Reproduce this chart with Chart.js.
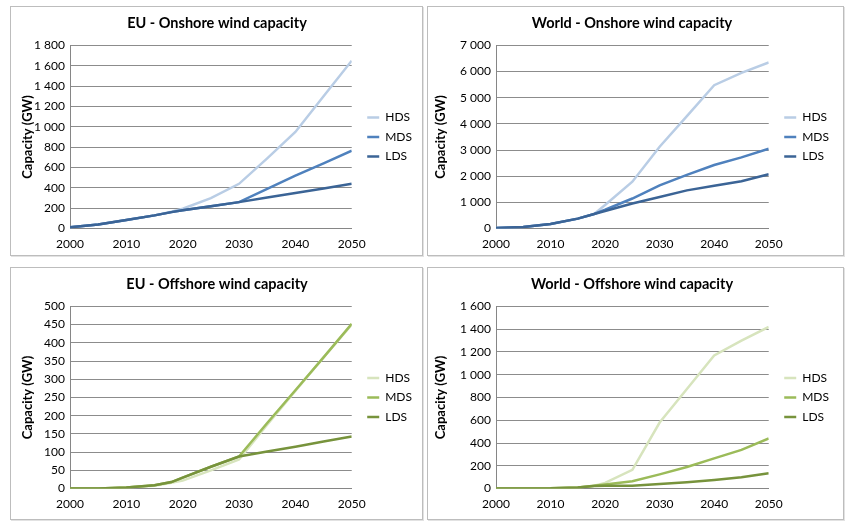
<!DOCTYPE html>
<html>
<head>
<meta charset="utf-8">
<script src="https://cdn.jsdelivr.net/npm/chart.js@4.4.1/dist/chart.umd.min.js"></script>
<style>
  body { margin: 0; background: #fff; width: 850px; height: 524px; position: relative; overflow: hidden; }
  .panel { position: absolute; border: 1px solid #bdbdbd; box-shadow: 1px 1px 0 #e2e2e2; background: #fff; }
  canvas { display: block; }
</style>
</head>
<body>
<div class="panel" style="left:10px;top:6px;"><canvas id="euOn" width="411" height="248"></canvas></div>
<div class="panel" style="left:427px;top:6px;"><canvas id="worldOn" width="415" height="248"></canvas></div>
<div class="panel" style="left:10px;top:267px;"><canvas id="euOff" width="411" height="251"></canvas></div>
<div class="panel" style="left:427px;top:267px;"><canvas id="worldOff" width="415" height="251"></canvas></div>
<script>
// years shared by all four charts
const years = [2000, 2005, 2010, 2015, 2018, 2020, 2025, 2030, 2035, 2040, 2045, 2050];
const scenarios = ['HDS', 'MDS', 'LDS'];

// EU onshore (GW)
const euOnHDS = [12, 40, 85, 130, 165, 195, 300, 440, 690, 950, 1300, 1650];
const euOnMDS = [12, 40, 85, 130, 162, 180, 220, 260, 390, 520, 640, 765];
const euOnLDS = [12, 40, 85, 130, 162, 180, 220, 260, 305, 350, 395, 440];

// World onshore (GW)
const worldOnHDS = [20, 60, 180, 380, 560, 900, 1790, 3130, 4300, 5480, 5950, 6350];
const worldOnMDS = [20, 60, 180, 380, 560, 720, 1150, 1650, 2050, 2430, 2720, 3050];
const worldOnLDS = [20, 60, 180, 380, 560, 670, 960, 1210, 1460, 1640, 1810, 2080];

// EU offshore (GW)
const euOffHDS = [0, 0.5, 3, 8, 16, 22, 50, 80, 175, 268, 360, 450];
const euOffMDS = [0, 0.5, 3, 9, 18, 30, 60, 88, 180, 270, 360, 452];
const euOffLDS = [0, 0.5, 3, 9, 18, 30, 60, 88, 102, 115, 129, 143];

// World offshore (GW)
const worldOffHDS = [0, 0, 2, 10, 25, 50, 165, 580, 875, 1170, 1300, 1420];
const worldOffMDS = [0, 0, 2, 10, 25, 35, 65, 125, 190, 265, 340, 440];
const worldOffLDS = [0, 0, 2, 10, 22, 25, 25, 40, 55, 75, 100, 135];

const xTicks = [2000, 2010, 2020, 2030, 2040, 2050];

const blues = ['#b9cde5', '#4f81bd', '#3b6496'];
const greens = ['#d7e4bd', '#9bbb59', '#77933c'];

const fontFamily = 'Lato, "Open Sans", sans-serif';

function spaced(v) {
    return String(v).replace(/\B(?=(\d{3})+(?!\d))/g, ' ');
}

// nudge the legend a little away from the plot
const legendGap = {
    id: 'legendGap',
    afterLayout(chart) {
        chart.legend.left += 8;
        chart.legend.right += 8;
    }
};

function makeChart(id, title, series, colors, yMax, yStep, pad, yWidth) {
    const ctx = document.getElementById(id).getContext('2d');
    const datasets = series.map((values, i) => ({
        label: scenarios[i],
        data: values.map((v, j) => ({ x: years[j], y: v })),
        borderColor: colors[i],
        backgroundColor: colors[i],
        borderWidth: 2.5,
        pointRadius: 0,
        tension: 0,
        // last series on top, like in Excel
        order: series.length - 1 - i
    }));

    return new Chart(ctx, {
        type: 'line',
        data: { datasets: datasets },
        plugins: [legendGap],
        options: {
            responsive: false,
            animation: false,
            devicePixelRatio: 1,
            layout: { padding: pad },
            plugins: {
                title: {
                    display: true,
                    text: title,
                    color: '#000',
                    font: { family: fontFamily, size: 14.5, weight: 'bold' },
                    padding: { top: 0, bottom: 13 }
                },
                legend: {
                    display: true,
                    position: 'right',
                    fullSize: false,
                    labels: {
                        usePointStyle: true,
                        pointStyle: 'line',
                        pointStyleWidth: 12,
                        padding: 7.5,
                        color: '#000',
                        font: { family: fontFamily, size: 12 },
                        sort: (a, b) => a.datasetIndex - b.datasetIndex
                    }
                },
                tooltip: { enabled: false }
            },
            scales: {
                x: {
                    type: 'linear',
                    min: 2000,
                    max: 2050,
                    afterBuildTicks: axis => { axis.ticks = xTicks.map(v => ({ value: v })); },
                    ticks: {
                        color: '#000',
                        font: { family: fontFamily, size: 12 },
                        maxRotation: 0,
                        padding: 8,
                        callback: v => String(v)
                    },
                    grid: { display: false, drawTicks: false },
                    border: { color: '#868686', width: 1 }
                },
                y: {
                    min: 0,
                    max: yMax,
                    afterFit: axis => { axis.width = yWidth; },
                    ticks: {
                        stepSize: yStep,
                        color: '#000',
                        font: { family: fontFamily, size: 12 },
                        padding: 5,
                        callback: v => spaced(v)
                    },
                    grid: { color: '#8c8c8c', lineWidth: 1, drawTicks: false },
                    border: { color: '#868686', width: 1 },
                    title: {
                        display: true,
                        text: 'Capacity (GW)',
                        color: '#000',
                        font: { family: fontFamily, size: 13, weight: 'bold' },
                        padding: { top: 0, bottom: 2 }
                    }
                }
            }
        }
    });
}

makeChart('euOn', 'EU - Onshore wind capacity', [euOnHDS, euOnMDS, euOnLDS], blues, 1800, 200,
    { top: 8, right: 8, left: 9, bottom: -4 }, 50);
makeChart('worldOn', 'World - Onshore wind capacity', [worldOnHDS, worldOnMDS, worldOnLDS], blues, 7000, 1000,
    { top: 8, right: 12, left: 5, bottom: -4 }, 63);
makeChart('euOff', 'EU - Offshore wind capacity', [euOffHDS, euOffMDS, euOffLDS], greens, 500, 50,
    { top: 8, right: 8, left: 9, bottom: 0 }, 50);
makeChart('worldOff', 'World - Offshore wind capacity', [worldOffHDS, worldOffMDS, worldOffLDS], greens, 1600, 200,
    { top: 8, right: 12, left: 5, bottom: 0 }, 63);
</script>
</body>
</html>
